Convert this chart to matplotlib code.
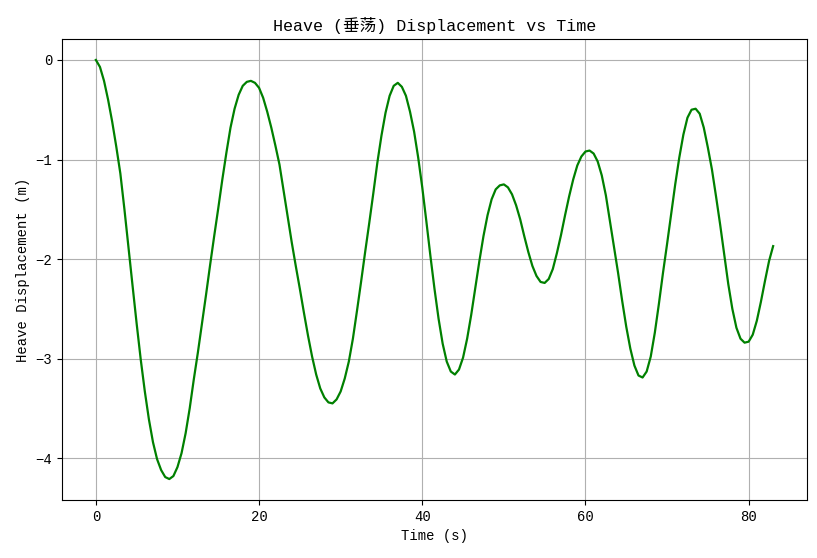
import matplotlib
matplotlib.use('Agg')
import matplotlib.pyplot as plt

# heave displacement, every 0.5 s
time_s = [0.0, 0.5, 1.0, 1.5, 2.0, 2.5, 3.0, 3.5, 4.0, 4.5,
          5.0, 5.5, 6.0, 6.5, 7.0, 7.5, 8.0, 8.5, 9.0, 9.5,
          10.0, 10.5, 11.0, 11.5, 12.0, 12.5, 13.0, 13.5, 14.0, 14.5,
          15.0, 15.5, 16.0, 16.5, 17.0, 17.5, 18.0, 18.5, 19.0, 19.5,
          20.0, 20.5, 21.0, 21.5, 22.0, 22.5, 23.0, 23.5, 24.0, 24.5,
          25.0, 25.5, 26.0, 26.5, 27.0, 27.5, 28.0, 28.5, 29.0, 29.5,
          30.0, 30.5, 31.0, 31.5, 32.0, 32.5, 33.0, 33.5, 34.0, 34.5,
          35.0, 35.5, 36.0, 36.5, 37.0, 37.5, 38.0, 38.5, 39.0, 39.5,
          40.0, 40.5, 41.0, 41.5, 42.0, 42.5, 43.0, 43.5, 44.0, 44.5,
          45.0, 45.5, 46.0, 46.5, 47.0, 47.5, 48.0, 48.5, 49.0, 49.5,
          50.0, 50.5, 51.0, 51.5, 52.0, 52.5, 53.0, 53.5, 54.0, 54.5,
          55.0, 55.5, 56.0, 56.5, 57.0, 57.5, 58.0, 58.5, 59.0, 59.5,
          60.0, 60.5, 61.0, 61.5, 62.0, 62.5, 63.0, 63.5, 64.0, 64.5,
          65.0, 65.5, 66.0, 66.5, 67.0, 67.5, 68.0, 68.5, 69.0, 69.5,
          70.0, 70.5, 71.0, 71.5, 72.0, 72.5, 73.0, 73.5, 74.0, 74.5,
          75.0, 75.5, 76.0, 76.5, 77.0, 77.5, 78.0, 78.5, 79.0, 79.5,
          80.0, 80.5, 81.0, 81.5, 82.0, 82.5, 83.0]
heave_m = [0.0, -0.07, -0.21, -0.40, -0.62, -0.87, -1.14, -1.50, -1.89, -2.27,
           -2.65, -3.01, -3.33, -3.61, -3.84, -4.01, -4.12, -4.19, -4.21, -4.18,
           -4.09, -3.95, -3.75, -3.50, -3.21, -2.94, -2.65, -2.36, -2.06, -1.77,
           -1.49, -1.20, -0.93, -0.68, -0.49, -0.35, -0.26, -0.22, -0.21, -0.23,
           -0.28, -0.38, -0.52, -0.68, -0.86, -1.05, -1.31, -1.57, -1.83, -2.07,
           -2.30, -2.54, -2.77, -2.98, -3.16, -3.30, -3.39, -3.44, -3.45, -3.41,
           -3.33, -3.20, -3.03, -2.80, -2.52, -2.23, -1.93, -1.64, -1.34, -1.03,
           -0.76, -0.53, -0.36, -0.26, -0.23, -0.27, -0.36, -0.52, -0.72, -0.98,
           -1.28, -1.62, -1.97, -2.30, -2.60, -2.85, -3.03, -3.13, -3.16, -3.11,
           -2.99, -2.80, -2.56, -2.29, -2.02, -1.77, -1.56, -1.40, -1.30, -1.26,
           -1.25, -1.28, -1.35, -1.46, -1.60, -1.77, -1.93, -2.07, -2.17, -2.23,
           -2.24, -2.20, -2.10, -1.94, -1.76, -1.56, -1.37, -1.20, -1.06, -0.97,
           -0.92, -0.91, -0.94, -1.02, -1.16, -1.36, -1.62, -1.88, -2.14, -2.42,
           -2.68, -2.90, -3.07, -3.17, -3.19, -3.13, -2.98, -2.74, -2.45, -2.14,
           -1.85, -1.55, -1.25, -0.98, -0.75, -0.58, -0.50, -0.49, -0.54, -0.68,
           -0.88, -1.10, -1.37, -1.65, -1.95, -2.25, -2.50, -2.69, -2.80, -2.84,
           -2.83, -2.76, -2.62, -2.43, -2.22, -2.02, -1.87]

plt.rcParams['font.family'] = ['Liberation Mono', 'Noto Sans CJK SC']
plt.rcParams['axes.unicode_minus'] = True

fig, ax = plt.subplots(figsize=(8.17, 5.58), dpi=100)
fig.subplots_adjust(left=62/817, right=807/817, top=1-39/558, bottom=1-500/558)

ax.plot(time_s, heave_m, color='green', linewidth=1.6)

ax.set_title('Heave (垂荡) Displacement vs Time', fontsize=12)
ax.set_xlabel('Time (s)', fontsize=10)
ax.set_ylabel('Heave Displacement (m)', fontsize=10)
ax.grid(True)

fig.savefig('out.png', dpi=100)
